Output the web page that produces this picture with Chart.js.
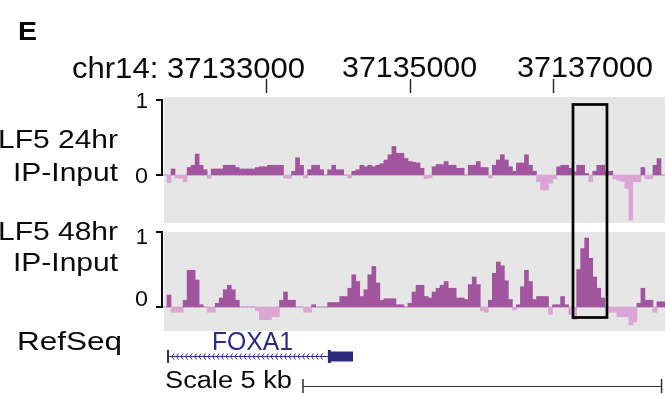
<!DOCTYPE html>
<html>
<head>
<meta charset="utf-8">
<script src="https://cdn.jsdelivr.net/npm/chart.js@4.4.1/dist/chart.umd.min.js"></script>
<style>
  html, body { margin: 0; padding: 0; background: #fff; overflow: hidden; }
  #wrap { position: relative; width: 665px; height: 394px; }
  #wrap canvas { position: absolute; left: 0; top: 0; }
</style>
</head>
<body>
<div id="wrap">
  <canvas id="t1" width="665" height="394"></canvas>
  <canvas id="t2" width="665" height="394"></canvas>
</div>
<script>
/* ── data: 56 bp bins starting at chr14:37131560 ── */
const BIN_START = 37131560;
const BIN_SIZE = 56;

const KLF5_24H = [
  0, -0.1, 0.08, -0.04, -0.045, -0.09, 0.1, 0.13, 0.28, 0.13,
  0.07, -0.045, 0.08, 0.08, 0.08, 0.13, 0.13, 0.13, 0.1, 0.08,
  0.08, 0.08, 0.08, 0.1, 0.11, 0.11, 0.13, 0.13, 0.13, 0.13,
  -0.04, -0.045, 0.05, 0.23, 0.13, -0.04, 0.07, 0.13, 0.13, 0.07,
  0, 0.07, 0.13, 0.07, 0.07, 0, -0.04, 0.05, 0.07, 0.13,
  0.11, 0.13, 0.11, 0.13, 0.15, 0.2, 0.27, 0.38, 0.29, 0.29,
  0.22, 0.18, 0.17, 0.16, 0.09, -0.05, -0.04, 0.11, 0.14, 0.14,
  0.18, 0.13, 0.13, 0.09, 0.09, 0, 0.13, 0.13, 0.18, 0.1,
  0.1, -0.04, 0.13, 0.2, 0.27, 0.2, 0.11, 0.05, 0.16, 0.16,
  0.27, 0.13, 0.05, -0.09, -0.2, -0.2, -0.11, -0.05, 0.11, 0.13,
  0.13, 0.09, 0.04, 0.13, 0.13, 0.02, -0.09, 0.05, 0.13, 0.13,
  0.05, 0.05, -0.05, -0.07, -0.09, -0.18, -0.6, -0.09, -0.09, 0.1,
  -0.05, -0.05, 0.13, 0.22, 0,
];

const KLF5_48H = [
  0, 0.16, -0.07, -0.07, -0.07, 0.09, 0.49, 0.49, 0.36, 0.03,
  0, -0.07, -0.07, 0.05, 0.12, 0.23, 0.29, 0.23, 0.09, 0,
  0, 0, 0, -0.05, -0.17, -0.17, -0.17, -0.13, -0.13, 0.09,
  0.2, 0.09, 0.09, 0, 0, -0.07, -0.07, 0.03, 0, 0,
  0, 0.06, 0.06, 0.06, 0.14, 0.14, 0.25, 0.43, 0.34, 0.14,
  0.23, 0.43, 0.54, 0.32, 0.09, 0.11, 0.11, 0.11, 0.03, 0.03,
  0, 0.05, 0.2, 0.29, 0.29, 0.14, 0.12, 0.2, 0.25, 0.29,
  0.34, 0.25, 0.25, 0.12, 0.12, 0.1, 0.3, 0.4, 0.3, -0.05,
  -0.07, 0.09, 0.45, 0.6, 0.55, 0.35, 0.1, -0.04, 0.03, 0.27,
  0.49, 0.34, 0.1, 0.14, 0.14, 0.14, -0.1, 0.03, 0.03, 0.14,
  0.03, -0.1, -0.17, 0.5, 0.78, 0.92, 0.65, 0.4, 0.25, 0.12,
  0, -0.07, -0.07, -0.13, -0.13, -0.13, -0.24, -0.2, 0.05, 0.25,
  0.09, 0.09, -0.07, 0.07, 0.07,
];

const COORD_TICKS  = [37133000, 37135000, 37137000];
const COORD_LABELS = ['chr14: 37133000', '37135000', '37137000'];
const TRACK_NAMES  = ['LF5 24hr', 'LF5 48hr'];
const TRACK_SUB    = 'IP-Input';
const Y_TICKS      = [0, 1];
const GENE       = { name: 'FOXA1', txStart: 37131630, thickStart: 37133860, txEnd: 37134210 };
const SCALE_BAR  = { label: 'Scale 5 kb', start: 37133512, length: 5000 };
const HIGHLIGHT  = { from: 37137277, to: 37137751, top: 0.94, bottom: -0.14 };

/* ── styles ── */
const POS = '#a2559f', NEG = '#dba6d6', PANEL = '#e6e6e6';
const INK = '#0a0a0a', GENE_INK = '#2b2b82';
const FONT = '"Liberation Sans", Arial, Helvetica, sans-serif';

// draw text squeezed/stretched to a given width (the figure's labels are a bit wide)
function fitText(ctx, str, x, y, size, width, opt = {}) {
  ctx.save();
  ctx.font = `${opt.bold ? 'bold ' : ''}${size}px ${FONT}`;
  ctx.fillStyle = opt.color || INK;
  ctx.textBaseline = 'alphabetic';
  ctx.textAlign = 'left';
  const w = ctx.measureText(str).width;
  const sx = width ? width / w : 1;
  const left = opt.align === 'right' ? x - w * sx : x;
  ctx.translate(left, y);
  ctx.scale(sx, 1);
  ctx.fillText(str, 0, 0);
  ctx.restore();
}

/* ── per-track plugins ── */
const panelBg = {
  id: 'panelbg',
  beforeDatasetsDraw(chart) {
    const { ctx, chartArea: a } = chart;
    ctx.save();
    ctx.fillStyle = PANEL;
    ctx.fillRect(a.left + 1, a.top, a.right - a.left - 1, a.bottom - a.top);
    ctx.restore();
  },
};

const yBracket = {
  id: 'ybracket',
  afterDraw(chart, args, opts) {
    const { ctx, chartArea: a, scales } = chart;
    const y = scales.y;
    const p1 = Math.round(y.getPixelForValue(1));
    const p0 = Math.round(y.getPixelForValue(0));
    ctx.save();
    ctx.fillStyle = INK;
    ctx.fillRect(a.left - 2, p1 - 1, 2, p0 - p1 + 2);     // bracket spine
    ctx.fillRect(a.left - 7, p1 - 1, 6, 2);               // top tick
    ctx.fillRect(a.left - 7, p0 - 1, 6, 2);               // zero tick
    const shift = opts.shift || [0, 0];
    Y_TICKS.forEach((t, i) => {
      const cy = y.getPixelForValue(t) + shift[i];
      fitText(ctx, String(t), a.left - 15, cy + 7.5, 22, t === 0 ? 13 : 0, { align: 'right' });
    });
    // track name on the left
    const names = opts.names;
    fitText(ctx, names[0], 118, opts.nameY[0], 25, 120, { align: 'right' });
    fitText(ctx, names[1], 118, opts.nameY[1], 25, 105, { align: 'right' });
    ctx.restore();
  },
};

let t1 = null;

const decorations = {
  id: 'decorations',
  afterDraw(chart) {
    const { ctx, scales } = chart;
    const x = scales.x;
    ctx.save();

    // panel letter
    fitText(ctx, 'E', 18, 40, 25, 19, { bold: true });

    // position ruler
    fitText(ctx, COORD_LABELS[0], 72, 78, 30, 233);
    fitText(ctx, COORD_LABELS[1], 342, 77, 30, 135);
    fitText(ctx, COORD_LABELS[2], 517, 77, 30, 136);
    ctx.strokeStyle = '#222';
    ctx.lineWidth = 1.4;
    ctx.beginPath();
    for (const t of COORD_TICKS) {
      const px = Math.round(x.getPixelForValue(t)) + 0.5;
      ctx.moveTo(px, 79);
      ctx.lineTo(px, 93);
    }
    ctx.stroke();

    // RefSeq gene
    fitText(ctx, 'RefSeq', 17, 350, 25, 105);
    fitText(ctx, GENE.name, 212, 350, 25, 81, { color: GENE_INK });
    const g0 = x.getPixelForValue(GENE.txStart);
    const g1 = x.getPixelForValue(GENE.thickStart);
    const g2 = x.getPixelForValue(GENE.txEnd);
    const gy = 356;
    ctx.strokeStyle = GENE_INK;
    ctx.fillStyle = GENE_INK;
    ctx.lineWidth = 1;
    ctx.beginPath();
    ctx.moveTo(g0, gy + 0.5);
    ctx.lineTo(g1, gy + 0.5);
    for (let px = g0 + 4; px < g1 - 3; px += 4.5) {
      ctx.moveTo(px + 2, gy - 2.5);
      ctx.lineTo(px, gy + 0.5);
      ctx.lineTo(px + 2, gy + 3.5);
    }
    ctx.stroke();
    ctx.fillRect(g0 - 1, gy - 6, 2, 13);
    ctx.fillRect(g1, gy - 6, 3, 13);
    ctx.fillRect(g1, gy - 4.5, g2 - g1, 10);

    // scale bar
    fitText(ctx, SCALE_BAR.label, 165, 388, 23, 127);
    const s0 = x.getPixelForValue(SCALE_BAR.start);
    const s1 = x.getPixelForValue(SCALE_BAR.start + SCALE_BAR.length);
    ctx.strokeStyle = '#333';
    ctx.lineWidth = 1;
    ctx.beginPath();
    ctx.moveTo(s0, 386.5);
    ctx.lineTo(s1, 386.5);
    ctx.stroke();
    ctx.lineWidth = 1.5;
    ctx.beginPath();
    ctx.moveTo(s0, 379); ctx.lineTo(s0, 393);
    ctx.moveTo(s1, 379); ctx.lineTo(s1, 393);
    ctx.stroke();

    // highlight box across both tracks
    const hx0 = x.getPixelForValue(HIGHLIGHT.from);
    const hx1 = x.getPixelForValue(HIGHLIGHT.to);
    const hy0 = t1.scales.y.getPixelForValue(HIGHLIGHT.top);
    const hy1 = scales.y.getPixelForValue(HIGHLIGHT.bottom);
    ctx.strokeStyle = '#000';
    ctx.lineWidth = 2.7;
    ctx.strokeRect(hx0, hy0, hx1 - hx0, hy1 - hy0);
    ctx.restore();
  },
};

/* ── build tracks ── */
const binCenters = KLF5_24H.map((_, i) => BIN_START + BIN_SIZE * (i + 0.5));

function makeTrack(canvasId, values, yMin, yMax, pad, labelOpts, extra) {
  return new Chart(document.getElementById(canvasId), {
    type: 'bar',
    data: {
      datasets: [{
        data: values.map((v, i) => ({ x: binCenters[i], y: v })),
        backgroundColor: c => (c.raw && c.raw.y < 0) ? NEG : POS,
        borderWidth: 0,
        barPercentage: 1,
        categoryPercentage: 1,
      }],
    },
    options: {
      responsive: false,
      animation: false,
      events: [],
      layout: { padding: pad },
      plugins: {
        legend: { display: false },
        tooltip: { enabled: false },
        ybracket: labelOpts,
      },
      scales: {
        x: { type: 'linear', min: BIN_START, max: BIN_START + BIN_SIZE * values.length,
             offset: false, display: false },
        y: { min: yMin, max: yMax, display: false },
      },
    },
    plugins: [panelBg, yBracket].concat(extra || []),
  });
}

t1 = makeTrack('t1', KLF5_24H, -0.64, 1.04,
  { left: 163, right: 0, top: 97, bottom: 171 },
  { names: [TRACK_NAMES[0], TRACK_SUB], nameY: [148, 181], shift: [0, 0] });

makeTrack('t2', KLF5_48H, -0.32, 1.0,
  { left: 163, right: 0, top: 232, bottom: 63 },
  { names: [TRACK_NAMES[1], TRACK_SUB], nameY: [240, 271], shift: [-9, 4] },
  [decorations]);
</script>
</body>
</html>
